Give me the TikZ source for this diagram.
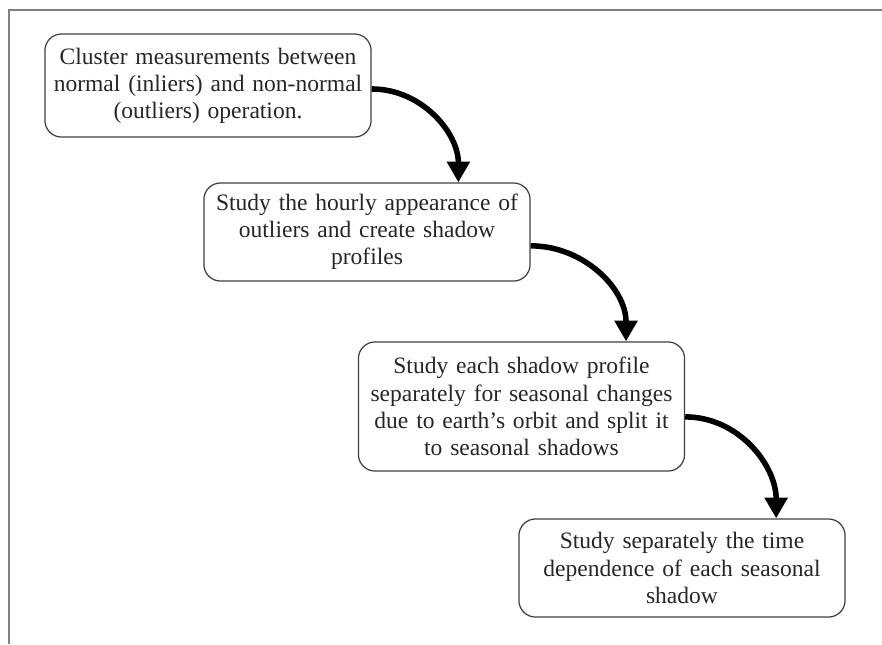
\documentclass[tikz,border=0pt]{standalone}
\usepackage{fontspec}
\setmainfont{Liberation Serif}
\usetikzlibrary{arrows.meta}

\tikzset{
  stage/.style={draw=black!75, line width=0.9pt, rounded corners=12pt,
    text width=3.1in, inner xsep=0.08in, inner ysep=0pt, align=center,
    font=\fontsize{17}{19.6}\selectfont, text=black!85},
  flow/.style={-{Triangle[width=16pt,length=15pt]}, line width=4pt, out=0, in=90},
}

\begin{document}
\begin{tikzpicture}[x=0.01in, y=-0.01in]
    \useasboundingbox (0,0) rectangle (882,644);
    \draw[black!50, line width=1.6pt] (9,644) -- (9,10) -- (882,10);

    \node[stage, minimum height=1.03in] (cluster) at (208,85.5)
        {Cluster measurements between\\ normal (inliers) and non-normal\\ (outliers) operation.};
    \node[stage, minimum height=0.98in] (hourly) at (367,232)
        {Study the hourly appearance of\\ outliers and create shadow\\ profiles};
    \node[stage, minimum height=1.29in] (profile) at (521.5,406.5)
        {Study each shadow profile\\ separately for seasonal changes\\ due to earth's orbit and split it\\ to seasonal shadows};
    \node[stage, minimum height=0.98in] (timedep) at (682,568)
        {Study separately the time\\ dependence of each seasonal\\ shadow};

    \draw[flow] ([yshift=-2.5]cluster.east) to ([xshift=66]hourly.north);
    \draw[flow] ([yshift=-10]hourly.east) to ([xshift=75.5]profile.north);
    \draw[flow] ([yshift=-7.5]profile.east) to ([xshift=68]timedep.north);
\end{tikzpicture}
\end{document}
